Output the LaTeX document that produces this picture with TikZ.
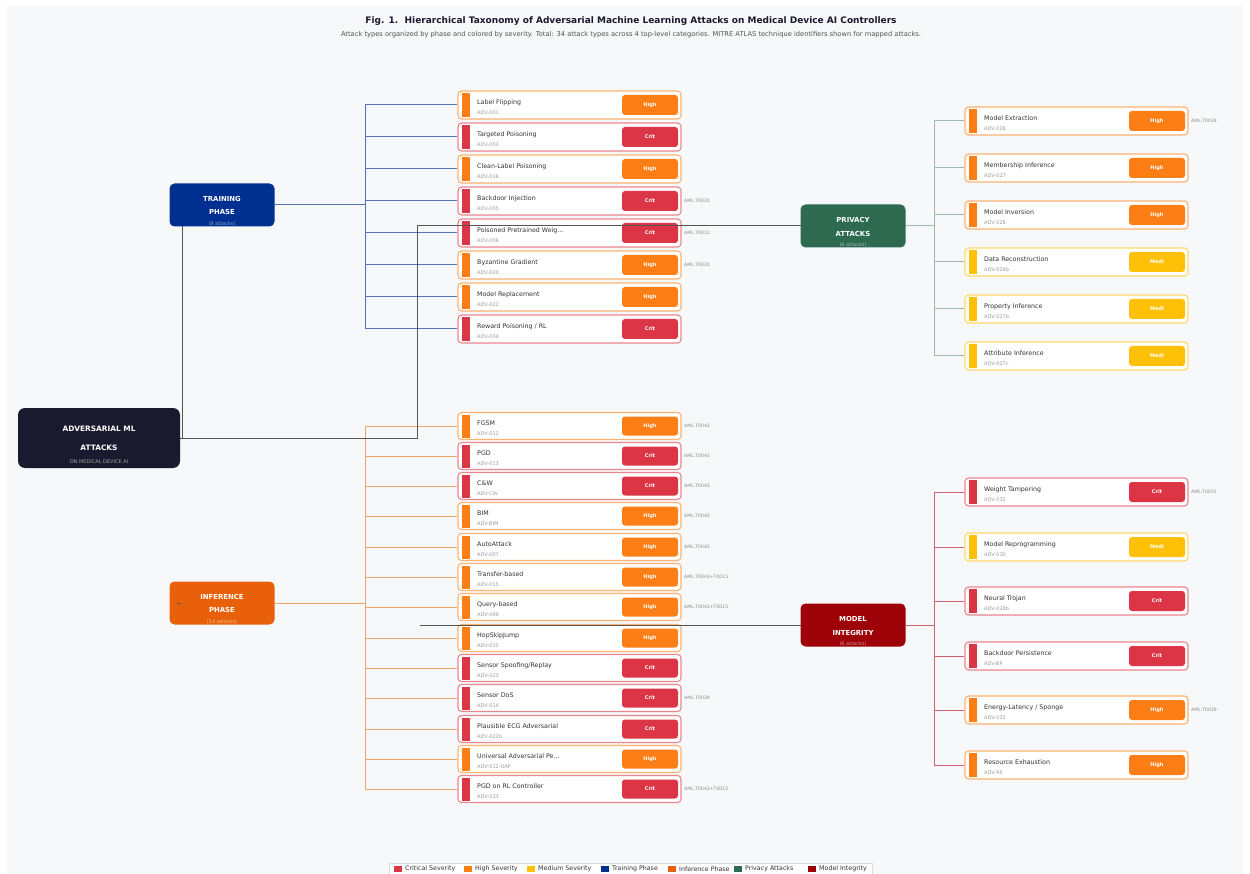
\documentclass[tikz,border=0pt]{standalone}
\usepackage{fontspec}
\setmainfont{DejaVu Sans}
\usetikzlibrary{positioning}

% colours
\definecolor{pagebg}{HTML}{F7F8FA}
\definecolor{rootcol}{HTML}{1A1A2E}
\definecolor{traincol}{HTML}{00308F}
\definecolor{infercol}{HTML}{E8610A}
\definecolor{privcol}{HTML}{2D6A4F}
\definecolor{integcol}{HTML}{9D0208}
\definecolor{Crit}{HTML}{DC3545}
\definecolor{High}{HTML}{FD7E14}
\definecolor{Medi}{HTML}{FFC107}
\colorlet{Critedge}{Crit!60!white}
\colorlet{Highedge}{High!60!white}
\colorlet{Mediedge}{Medi!60!white}
\definecolor{namegray}{HTML}{333333}
\definecolor{idgray}{HTML}{9A9A9A}
\definecolor{amlgray}{HTML}{8A8A8A}
\definecolor{linkgray}{HTML}{555555}
\definecolor{trainlink}{HTML}{5573B8}
\definecolor{inferlink}{HTML}{F2A467}
\definecolor{privlink}{HTML}{9BBBAC}
\definecolor{integlink}{HTML}{D2616C}

\def\cardheight{28pt}

\tikzset{
  card/.style={draw, line width=1.1pt, rounded corners=3.5pt, fill=white,
    minimum width=223pt, minimum height=\cardheight, inner sep=0pt},
  sevbar/.style={minimum width=8pt, minimum height=\cardheight-4pt, inner sep=0pt},
  cardname/.style={font=\fontsize{6.3}{7}\selectfont, text=namegray, inner sep=0pt, anchor=west},
  cardid/.style={font=\fontsize{5}{6}\selectfont, text=idgray, inner sep=0pt, anchor=west},
  badge/.style={rounded corners=3pt, minimum width=56pt, minimum height=\cardheight-8pt,
    inner sep=0pt, text=white, font=\fontsize{5}{6}\bfseries\selectfont},
  amlid/.style={font=\fontsize{4.6}{5}\selectfont, text=amlgray, inner sep=0pt, anchor=west},
  catbox/.style={rounded corners=5pt, minimum width=105pt, minimum height=43pt, inner sep=0pt},
  cattitle/.style={font=\fontsize{6.9}{8}\bfseries\selectfont, text=white, inner sep=0pt},
  catcount/.style={font=\fontsize{5}{6}\selectfont, inner sep=0pt},
  rootline/.style={draw=linkgray, line width=1pt},
  trainline/.style={draw=trainlink, line width=1pt},
  inferline/.style={draw=inferlink, line width=1pt},
  privline/.style={draw=privlink, line width=1pt},
  integline/.style={draw=integlink, line width=1pt},
  legendsq/.style={minimum width=8pt, minimum height=6pt, inner sep=0pt},
  legendtext/.style={font=\fontsize{6.3}{7}\selectfont, text=namegray, inner sep=0pt, anchor=west},
}

% one attack card: name, x, y, title, id, severity, atlas id
\newcommand{\attackcard}[7]{%
  \node[card, draw=#6edge] (#1) at (#2,#3) {};
  \node[sevbar, fill=#6] (#1bar) at ({#2-103.5},#3) {};
  \node[cardname] (#1name) at ({#2-92.5},{#3-2.5}) {#4};
  \node[cardid] (#1id) at ({#2-92.5},{#3+8}) {#5};
  \node[badge, fill=#6] (#1sev) at ({#2+80.5},#3) {#6};
  \node[amlid] (#1aml) at ({#2+114.5},#3) {#7};
}

% legend entry: name, x, colour, text
\newcommand{\legendentry}[4]{%
  \node[legendsq, fill=#3] (#1sq) at (#2,869) {};
  \node[legendtext] (#1txt) at ({#2+7},869) {#4};
}

\begin{document}
\begin{tikzpicture}[x=1pt, y=-1pt]
  \useasboundingbox (0,0) rectangle (1250,874);
  \fill[white] (0,0) rectangle (1250,874);
  \fill[pagebg] (7,6) rectangle (1243,874);

  % title
  \node[font=\fontsize{9}{10}\bfseries\selectfont, text=rootcol] (title) at (631,21)
    {Fig. 1.\ \ Hierarchical Taxonomy of Adversarial Machine Learning Attacks on Medical Device AI Controllers};
  \node[font=\fontsize{6.7}{7}\selectfont, text=namegray!85!white] (subtitle) at (631,35)
    {Attack types organized by phase and colored by severity. Total: 34 attack types across 4 top-level categories. MITRE ATLAS technique identifiers shown for mapped attacks.};

  % trees behind the boxes
  \coordinate (trainbus) at (365,205);
  \coordinate (inferbus) at (365,603);
  \coordinate (privbus) at (934,226);
  \coordinate (integbus) at (934,625);

  % training phase cards
  \attackcard{lf}{569.5}{105}{Label Flipping}{ADV-001}{High}{}
  \attackcard{tp}{569.5}{137}{Targeted Poisoning}{ADV-003}{Crit}{}
  \attackcard{clp}{569.5}{169}{Clean-Label Poisoning}{ADV-016}{High}{}
  \attackcard{bi}{569.5}{201}{Backdoor Injection}{ADV-005}{Crit}{AML.T0020}
  \attackcard{ppw}{569.5}{233}{Poisoned Pretrained Weig...}{ADV-006}{Crit}{AML.T0012}
  \attackcard{bg}{569.5}{265}{Byzantine Gradient}{ADV-020}{High}{AML.T0020}
  \attackcard{mr}{569.5}{297}{Model Replacement}{ADV-022}{High}{}
  \attackcard{rp}{569.5}{329}{Reward Poisoning / RL}{ADV-034}{Crit}{}

  % inference phase cards
  \def\cardheight{27pt}
  \attackcard{fgsm}{569.5}{426}{FGSM}{ADV-012}{High}{AML.T0043}
  \attackcard{pgd}{569.5}{456}{PGD}{ADV-013}{Crit}{AML.T0043}
  \attackcard{cw}{569.5}{486}{C\&W}{ADV-CW}{Crit}{AML.T0043}
  \attackcard{bim}{569.5}{516}{BIM}{ADV-BIM}{High}{AML.T0043}
  \attackcard{aa}{569.5}{547}{AutoAttack}{ADV-007}{High}{AML.T0043}
  \attackcard{tb}{569.5}{577}{Transfer-based}{ADV-015}{High}{AML.T0043+T0015}
  \attackcard{qb}{569.5}{607}{Query-based}{ADV-009}{High}{AML.T0043+T0015}
  \attackcard{hsj}{569.5}{638}{HopSkipJump}{ADV-010}{High}{}
  \attackcard{ssr}{569.5}{668}{Sensor Spoofing/Replay}{ADV-023}{Crit}{}
  \attackcard{sdos}{569.5}{698}{Sensor DoS}{ADV-014}{Crit}{AML.T0029}
  \attackcard{ecg}{569.5}{729}{Plausible ECG Adversarial}{ADV-022b}{Crit}{}
  \attackcard{uap}{569.5}{759}{Universal Adversarial Pe...}{ADV-012-UAP}{High}{}
  \attackcard{pgdrl}{569.5}{789}{PGD on RL Controller}{ADV-033}{Crit}{AML.T0043+T0015}
  \def\cardheight{28pt}

  % privacy cards
  \attackcard{mex}{1076.5}{121}{Model Extraction}{ADV-026}{High}{AML.T0024}
  \attackcard{mem}{1076.5}{168}{Membership Inference}{ADV-027}{High}{}
  \attackcard{minv}{1076.5}{215}{Model Inversion}{ADV-028}{High}{}
  \attackcard{drec}{1076.5}{262}{Data Reconstruction}{ADV-026b}{Medi}{}
  \attackcard{pinf}{1076.5}{309}{Property Inference}{ADV-027b}{Medi}{}
  \attackcard{ainf}{1076.5}{356}{Attribute Inference}{ADV-027c}{Medi}{}

  % model integrity cards
  \attackcard{wt}{1076.5}{492}{Weight Tampering}{ADV-032}{Crit}{AML.T0031}
  \attackcard{mrep}{1076.5}{547}{Model Reprogramming}{ADV-030}{Medi}{}
  \attackcard{nt}{1076.5}{601}{Neural Trojan}{ADV-028b}{Crit}{}
  \attackcard{bp}{1076.5}{656}{Backdoor Persistence}{ADV-BP}{Crit}{}
  \attackcard{els}{1076.5}{710}{Energy-Latency / Sponge}{ADV-031}{High}{AML.T0029}
  \attackcard{rex}{1076.5}{765}{Resource Exhaustion}{ADV-RE}{High}{}

  % branches
  \draw[trainline] (trainbus |- lf.west) -- (trainbus |- rp.west);
  \foreach \c in {lf,tp,clp,bi,ppw,bg,mr,rp}
    \draw[trainline] (trainbus |- \c.west) -- (\c.west);
  \draw[inferline] (inferbus |- fgsm.west) -- (inferbus |- pgdrl.west);
  \foreach \c in {fgsm,pgd,cw,bim,aa,tb,qb,hsj,ssr,sdos,ecg,uap,pgdrl}
    \draw[inferline] (inferbus |- \c.west) -- (\c.west);
  \draw[privline] (privbus |- mex.west) -- (privbus |- ainf.west);
  \foreach \c in {mex,mem,minv,drec,pinf,ainf}
    \draw[privline] (privbus |- \c.west) -- (\c.west);
  \draw[integline] (integbus |- wt.west) -- (integbus |- rex.west);
  \foreach \c in {wt,mrep,nt,bp,els,rex}
    \draw[integline] (integbus |- \c.west) -- (\c.west);

  % links from the root
  \coordinate (rootknee) at (417,438);
  \draw[rootline] (99,438) -- (rootknee) |- (806,226);
  \draw[rootline] (182,438) -- (182,205) -- (222,205);
  \draw[rootline] (420,625) -- (806,625);

  % category boxes
  \node[catbox, fill=rootcol, minimum width=162pt, minimum height=60pt, rounded corners=7pt] (root) at (99,438) {};
  \node[cattitle, font=\fontsize{7.4}{8}\bfseries\selectfont] (root1) at (99,429) {ADVERSARIAL ML};
  \node[cattitle, font=\fontsize{7.4}{8}\bfseries\selectfont] (root2) at (99,448) {ATTACKS};
  \node[catcount, text=white!60!rootcol] (root3) at (99,462) {ON MEDICAL DEVICE AI};

  \node[catbox, fill=traincol] (train) at (222,205) {};
  \node[cattitle] (train1) at (222,199) {TRAINING};
  \node[cattitle] (train2) at (222,212) {PHASE};
  \node[catcount, text=white!55!traincol] (train3) at (222,224) {(8 attacks)};

  \node[catbox, fill=infercol] (infer) at (222,603) {};
  \node[cattitle] (infer1) at (222,597) {INFERENCE};
  \node[cattitle] (infer2) at (222,610) {PHASE};
  \node[catcount, text=white!55!infercol] (infer3) at (222,622) {(14 attacks)};

  \node[catbox, fill=privcol] (priv) at (853,226) {};
  \node[cattitle] (priv1) at (853,220) {PRIVACY};
  \node[cattitle] (priv2) at (853,234) {ATTACKS};
  \node[catcount, text=white!55!privcol] (priv3) at (853,245) {(6 attacks)};

  \node[catbox, fill=integcol] (integ) at (853,625) {};
  \node[cattitle] (integ1) at (853,619) {MODEL};
  \node[cattitle] (integ2) at (853,633) {INTEGRITY};
  \node[catcount, text=white!55!integcol] (integ3) at (853,644) {(6 attacks)};

  % category to its bus
  \draw[rootline] (infer.center -| 177,0) -- (181,603);
  \draw[trainline] (train.east) -- (trainbus);
  \draw[inferline] (infer.east) -- (inferbus);
  \draw[privline] (priv.east) -- (privbus);
  \draw[integline] (integ.east) -- (integbus);

  % legend
  \node[draw=black!15, fill=white, minimum width=483pt, minimum height=12pt, inner sep=0pt] (legend) at (630.5,869) {};
  \legendentry{lc}{398}{Crit}{Critical Severity}
  \legendentry{lh}{468}{High}{High Severity}
  \legendentry{lm}{531}{Medi}{Medium Severity}
  \legendentry{lt}{605}{traincol}{Training Phase}
  \legendentry{li}{672}{infercol}{Inference Phase}
  \legendentry{lp}{738}{privcol}{Privacy Attacks}
  \legendentry{lg}{812}{integcol}{Model Integrity}
\end{tikzpicture}
\end{document}
